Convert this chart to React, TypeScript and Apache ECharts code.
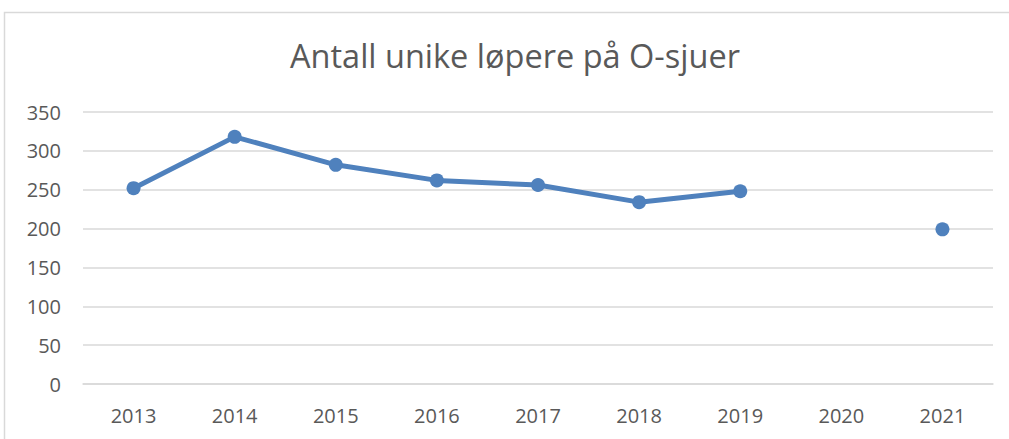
import React, { useEffect, useRef } from "react";
import * as echarts from "echarts";

const title = "Antall unike løpere på O-sjuer";
const years = ["2013", "2014", "2015", "2016", "2017", "2018", "2019", "2020", "2021"];
const runners: (number | null)[] = [252, 318, 282, 262, 256, 234, 248, null, 199];
const yTicks = { min: 0, max: 350, interval: 50 };

export default function App() {
  const ref = useRef<HTMLDivElement>(null);
  useEffect(() => {
    if (!ref.current) return;
    const chart = echarts.init(ref.current, null, { renderer: "svg" });
    chart.setOption({
      animation: false,
      backgroundColor: "#ffffff",
      title: {
        text: title,
        left: 285,
        top: 34,
        textStyle: {
          fontFamily: "Open Sans",
          fontSize: 32.5,
          fontWeight: "normal",
          color: "#595959",
        },
      },
      graphic: [
        {
          type: "rect",
          shape: { x: 4.5, y: 12.5, width: 1100, height: 600 },
          style: { fill: "none", stroke: "#d9d9d9", lineWidth: 1.5 },
          silent: true,
        },
      ],
      grid: { left: 83, right: 16, top: 112, bottom: 55 },
      xAxis: {
        type: "category",
        data: years,
        boundaryGap: true,
        axisLine: { show: true, lineStyle: { color: "#d9d9d9", width: 1.5 } },
        axisTick: { show: false },
        axisLabel: {
          color: "#595959",
          fontFamily: "Open Sans",
          fontSize: 20,
          margin: 21,
        },
      },
      yAxis: {
        type: "value",
        min: yTicks.min,
        max: yTicks.max,
        interval: yTicks.interval,
        axisLine: { show: false },
        axisTick: { show: false },
        splitLine: { lineStyle: { color: "#d9d9d9", width: 1.5 } },
        axisLabel: {
          color: "#595959",
          fontFamily: "Open Sans",
          fontSize: 20,
          margin: 22,
        },
      },
      series: [
        {
          type: "line",
          data: runners,
          connectNulls: false,
          symbol: "circle",
          symbolSize: 14,
          showSymbol: true,
          showAllSymbol: true,
          lineStyle: { color: "#4f81bd", width: 5 },
          itemStyle: { color: "#4f81bd" },
        },
      ],
    });
    return () => chart.dispose();
  }, []);
  return (
    <div
      ref={ref}
      style={{ position: "fixed", left: 0, top: 0, width: 1009, height: 439 }}
    />
  );
}
